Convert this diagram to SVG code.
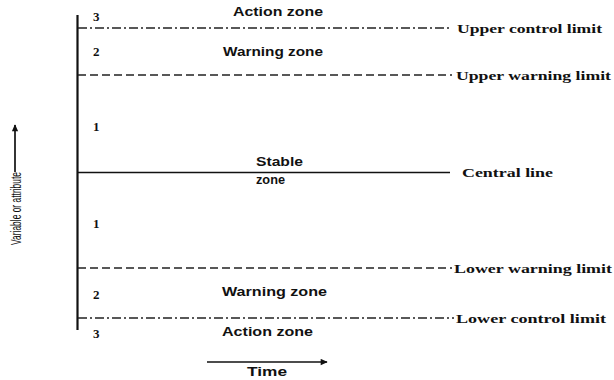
<svg xmlns="http://www.w3.org/2000/svg" width="614" height="380" viewBox="0 0 614 380">
  <style>
    .zone { font-family: "Liberation Sans", Arial, sans-serif; font-weight: bold; font-size: 12px; fill: #111; }
    .num { font-family: "Liberation Serif", "Times New Roman", serif; font-weight: bold; font-size: 13px; fill: #111; }
    .lim { font-family: "Liberation Serif", "Times New Roman", serif; font-weight: bold; font-size: 13.5px; fill: #111; }
    .axis { stroke: #111; stroke-width: 2.2; fill: none; }
    .solid { stroke: #111; stroke-width: 1.7; fill: none; }
    .dash { stroke: #222; stroke-width: 1.5; fill: none; stroke-dasharray: 8 4; }
    .dashdot { stroke: #222; stroke-width: 1.5; fill: none; stroke-dasharray: 9 3 2 3; }
  </style>
  <defs>
    <marker id="head" viewBox="0 0 10 10" refX="9" refY="5" markerWidth="10" markerHeight="7" markerUnits="userSpaceOnUse" orient="auto">
      <path d="M0,0.5 L10,5 L0,9.5 Z" fill="#111"/>
    </marker>
  </defs>
  <rect width="614" height="380" fill="#fff"/>

  <!-- axes and limit lines -->
  <g id="connectors">
    <line class="axis" x1="77.5" y1="15" x2="77.5" y2="330"/>
    <line class="dashdot" x1="78" y1="28" x2="452" y2="28"/>
    <line class="dash" x1="78" y1="75" x2="452" y2="75"/>
    <line class="solid" x1="78" y1="172.5" x2="450" y2="172.5"/>
    <line class="dash" x1="78" y1="268" x2="452" y2="268"/>
    <line class="dashdot" x1="78" y1="318" x2="454" y2="318"/>
    <!-- time arrow -->
    <line class="solid" x1="207" y1="362" x2="327" y2="362" marker-end="url(#head)"/>
    <!-- value arrow -->
    <line class="solid" x1="15" y1="172" x2="15" y2="125" marker-end="url(#head)"/>
  </g>

  <!-- zone numbers -->
  <g id="zone-numbers">
    <text class="num" x="93" y="21">3</text>
    <text class="num" x="93" y="56">2</text>
    <text class="num" x="93" y="131">1</text>
    <text class="num" x="93" y="228">1</text>
    <text class="num" x="93" y="299">2</text>
    <text class="num" x="93" y="338">3</text>
  </g>

  <!-- zone names -->
  <g id="zone-labels">
    <text class="zone" x="233" y="16" textLength="90" lengthAdjust="spacingAndGlyphs">Action zone</text>
    <text class="zone" x="223" y="56" textLength="100" lengthAdjust="spacingAndGlyphs">Warning zone</text>
    <text class="zone" x="256" y="166" textLength="47" lengthAdjust="spacingAndGlyphs">Stable</text>
    <text class="zone" x="256" y="184" textLength="29" lengthAdjust="spacingAndGlyphs">zone</text>
    <text class="zone" x="222" y="296" textLength="105" lengthAdjust="spacingAndGlyphs">Warning zone</text>
    <text class="zone" x="222" y="336" textLength="91" lengthAdjust="spacingAndGlyphs">Action zone</text>
  </g>

  <!-- limit names -->
  <g id="limit-labels">
    <text class="lim" x="457" y="33" textLength="145" lengthAdjust="spacingAndGlyphs">Upper control limit</text>
    <text class="lim" x="456" y="80" textLength="155" lengthAdjust="spacingAndGlyphs">Upper warning limit</text>
    <text class="lim" x="462" y="177" textLength="91" lengthAdjust="spacingAndGlyphs">Central line</text>
    <text class="lim" x="454" y="273" textLength="158" lengthAdjust="spacingAndGlyphs">Lower warning limit</text>
    <text class="lim" x="456" y="323" textLength="150" lengthAdjust="spacingAndGlyphs">Lower control limit</text>
  </g>

  <!-- axis titles -->
  <g id="axis-titles">
    <text class="zone" x="247" y="376" textLength="40" lengthAdjust="spacingAndGlyphs">Time</text>
    <text transform="translate(21,245) rotate(-90)" x="0" y="0" font-family="'Liberation Sans', Arial, sans-serif" font-size="15" fill="#111" textLength="73" lengthAdjust="spacingAndGlyphs">Variable or attribute</text>
  </g>
</svg>
